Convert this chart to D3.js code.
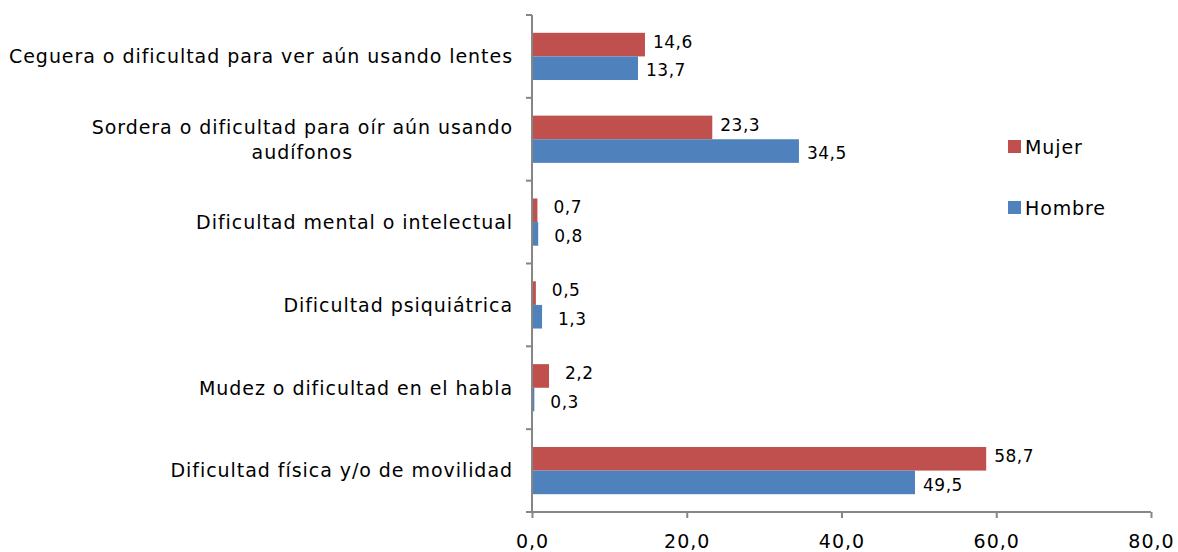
<!DOCTYPE html>
<html>
<head>
<meta charset="utf-8">
<script src="https://cdn.jsdelivr.net/npm/d3@7"></script>
<style>
  body { margin: 0; background: #fff; }
  text { font-family: Verdana, "DejaVu Sans", sans-serif; fill: #000; }
</style>
</head>
<body>
<div id="bar_chart"></div>
<script>
var categories = [
  ["Ceguera o dificultad para ver aún usando lentes"],
  ["Sordera o dificultad para oír aún usando", "audífonos"],
  ["Dificultad mental o intelectual"],
  ["Dificultad psiquiátrica"],
  ["Mudez o dificultad en el habla"],
  ["Dificultad física y/o de movilidad"]
];
var mujer = [14.6, 23.3, 0.7, 0.5, 2.2, 58.7];
var hombre = [13.7, 34.5, 0.8, 1.3, 0.3, 49.5];
var seriesNames = ["Mujer", "Hombre"];
var xTicks = [0, 20, 40, 60, 80];

var w = 1178, h = 552;
var colors = {Mujer: "#C0504D", Hombre: "#4F81BD"};
var axisColor = "#868686";

var svg = d3.select("#bar_chart").append("svg")
  .attr("width", w).attr("height", h);

var x0 = 532, x1 = 1151, yTop = 15, yBot = 512;

var x = d3.scaleLinear().domain([0, 80]).range([x0, x1]);
var y = d3.scaleBand().domain(d3.range(categories.length)).range([yTop, yBot]).paddingInner(0.43).paddingOuter(0.215);
var ySeries = d3.scaleBand().domain(seriesNames).range([0, y.bandwidth()]);

var rows = categories.map(function(c, i) {
  return {i: i, label: c, values: [{s: "Mujer", v: mujer[i]}, {s: "Hombre", v: hombre[i]}]};
});

// bars
var groups = svg.selectAll("g.cat").data(rows).enter().append("g")
  .attr("class", "cat")
  .attr("transform", function(d) { return "translate(0," + y(d.i) + ")"; });

groups.selectAll("rect").data(function(d) { return d.values; }).enter().append("rect")
  .attr("x", x(0))
  .attr("y", function(d) { return ySeries(d.s); })
  .attr("width", function(d) { return x(d.v) - x(0); })
  .attr("height", ySeries.bandwidth())
  .attr("fill", function(d) { return colors[d.s]; });

groups.selectAll("text.val").data(function(d) { return d.values; }).enter().append("text")
  .attr("class", "val")
  .attr("x", function(d) { return x(d.v) + (d.v < 5 ? 16 : 8); })
  .attr("y", function(d) { return ySeries(d.s) + ySeries.bandwidth() / 2 + (d.s == "Mujer" ? -3 : 2); })
  .attr("dy", "0.36em")
  .attr("font-size", "17px")
  .attr("letter-spacing", "0.5px")
  .text(function(d) { return d3.format(".1f")(d.v).replace(".", ","); });

// y axis line and ticks at band boundaries
var step = (yBot - yTop) / categories.length;
svg.append("line")
  .attr("x1", x0).attr("x2", x0).attr("y1", yTop).attr("y2", yBot)
  .attr("stroke", axisColor).attr("stroke-width", 2);
svg.selectAll("line.ytick").data(d3.range(categories.length + 1)).enter().append("line")
  .attr("class", "ytick")
  .attr("x1", x0 - 6).attr("x2", x0)
  .attr("y1", function(d) { return yTop + d * step; })
  .attr("y2", function(d) { return yTop + d * step; })
  .attr("stroke", axisColor).attr("stroke-width", 2);

// category labels
var labels = svg.selectAll("text.cat").data(rows).enter().append("text")
  .attr("class", "cat")
  .attr("font-size", "19px")
  .attr("letter-spacing", "0.95px")
  .attr("text-anchor", "middle")
  .each(function(d) {
    var t = d3.select(this);
    var cy = y(d.i) + y.bandwidth() / 2;
    var n = d.label.length;
    d.label.forEach(function(line, k) {
      t.append("tspan")
        .attr("x", 0)
        .attr("y", cy + (k - (n - 1) / 2) * 25)
        .attr("dy", "0.36em")
        .text(line);
    });
  });
// right-align block, center multi-line text within the block
labels.each(function() {
  var t = d3.select(this);
  var bb = this.getBBox();
  var cx = 513 - bb.width / 2;
  t.selectAll("tspan").attr("x", cx);
});

// x axis
var xAxis = d3.axisBottom(x).tickValues(xTicks).tickSize(6).tickPadding(17)
  .tickFormat(function(d) { return d3.format(".1f")(d).replace(".", ","); });
var gx = svg.append("g").attr("transform", "translate(0," + yBot + ")").call(xAxis);
gx.select(".domain").attr("stroke", axisColor).attr("stroke-width", 2).attr("d", "M" + x0 + ",0H" + x1);
gx.selectAll(".tick line").attr("stroke", axisColor).attr("stroke-width", 2);
gx.selectAll(".tick text").attr("font-size", "19px").attr("fill", "#000")
  .attr("letter-spacing", "1px")
  .attr("font-family", "Verdana, 'DejaVu Sans', sans-serif");

// legend
var legend = svg.selectAll("g.leg").data(seriesNames).enter().append("g")
  .attr("class", "leg")
  .attr("transform", function(d, i) { return "translate(1008," + (140 + i * 61) + ")"; });
legend.append("rect").attr("width", 13).attr("height", 13)
  .attr("fill", function(d) { return colors[d]; });
legend.append("text").attr("x", 17).attr("y", 7).attr("dy", "0.36em")
  .attr("font-size", "19px").attr("letter-spacing", "0.9px").text(function(d) { return d; });
</script>
</body>
</html>
